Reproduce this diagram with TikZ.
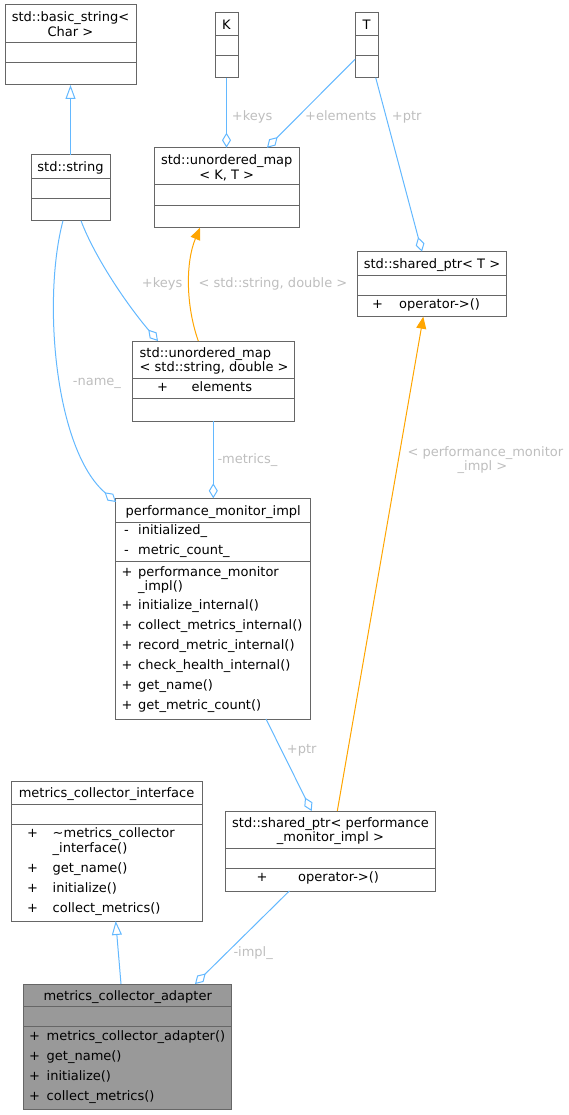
\documentclass[tikz,border=0pt]{standalone}
\usepackage{fontspec}
\setmainfont{DejaVu Sans}
\usetikzlibrary{arrows.meta}
\definecolor{steel}{HTML}{63B8FF}
\definecolor{tmplorange}{HTML}{FFA500}
\definecolor{boxgray}{HTML}{666666}
\definecolor{lblgray}{HTML}{BEBEBE}
\definecolor{adapterfill}{HTML}{999999}
\newcommand\dvf{\fontsize{13}{14.5}\selectfont}
\begin{document}
\begin{tikzpicture}[x=1pt,y=-1pt,
 cls/.style={draw=boxgray, line width=1pt, fill=white, inner sep=0pt, outer sep=0pt, anchor=north west},
 sepline/.style={draw=boxgray, line width=1pt},
 txt/.style={inner sep=0pt, font=\dvf, text=black, anchor=base west},
 ttl/.style={inner sep=0pt, font=\dvf, text=black, anchor=base},
 lbl/.style={inner sep=0pt, font=\dvf, text=lblgray, anchor=base west},
 agg/.style={draw=steel, line width=1pt, -{Diamond[open, length=15pt, width=9pt]}},
 inh/.style={draw=steel, line width=1pt, -{Triangle[open, length=14pt, width=10pt]}},
 tmpl/.style={draw=tmplorange, line width=1pt, -{Triangle[length=12pt, width=10pt, fill=tmplorange]}}
]
\useasboundingbox (0,0) rectangle (569,1115);

% ---------- boxes ----------
% std::basic_string<Char>
\node[cls, minimum width=131pt, minimum height=80pt] (bstr) at (5,5) {};
\draw[sepline] (5,42.7) -- (136,42.7);
\draw[sepline] (5,62.3) -- (136,62.3);
\node[ttl] (bstrT1) at (70.5,21.2) {std::basic\_string<};
\node[ttl] (bstrT2) at (70.5,36.2) {Char >};

% std::string
\node[cls, minimum width=79pt, minimum height=65.7pt] (str) at (31,155) {};
\draw[sepline] (31,178.3) -- (110,178.3);
\draw[sepline] (31,199) -- (110,199);
\node[ttl] (strT) at (70.5,171.2) {std::string};

% K
\node[cls, minimum width=23pt, minimum height=65pt] (K) at (215,12.7) {};
\draw[sepline] (215,35.7) -- (238,35.7);
\draw[sepline] (215,56) -- (238,56);
\node[ttl] (KT) at (226.5,29.4) {K};

% T
\node[cls, minimum width=23pt, minimum height=65pt] (T) at (355,12.7) {};
\draw[sepline] (355,35.7) -- (378,35.7);
\draw[sepline] (355,56) -- (378,56);
\node[ttl] (TT) at (366.5,29.4) {T};

% std::unordered_map< K, T >
\node[cls, minimum width=144.7pt, minimum height=80pt] (umapKT) at (154.3,147.7) {};
\draw[sepline] (154.3,185) -- (299,185);
\draw[sepline] (154.3,205.7) -- (299,205.7);
\node[ttl] (umapKT1) at (226.7,165) {std::unordered\_map};
\node[ttl] (umapKT2) at (226.7,179.5) {< K, T >};

% std::shared_ptr< T >
\node[cls, minimum width=149.4pt, minimum height=65pt] (spT) at (357.3,251.7) {};
\draw[sepline] (357.3,275.3) -- (506.7,275.3);
\draw[sepline] (357.3,295.3) -- (506.7,295.3);
\node[ttl] (spTT) at (432,268.5) {std::shared\_ptr< T >};
\node[txt] (spTp) at (372,308.8) {+};
\node[txt] (spTm) at (399,308.8) {operator->()};

% std::unordered_map< std::string, double >
\node[cls, minimum width=161.3pt, minimum height=80pt] (umap2) at (132.7,341) {};
\draw[sepline] (132.7,378.7) -- (294,378.7);
\draw[sepline] (132.7,398.7) -- (294,398.7);
\node[txt] (umap2T1) at (139.5,357.2) {std::unordered\_map};
\node[txt] (umap2T2) at (139.5,371.4) {< std::string, double >};
\node[txt] (umap2p) at (157,391.2) {+};
\node[txt] (umap2a) at (191.5,391.2) {elements};

% performance_monitor_impl
\node[cls, minimum width=195pt, minimum height=220.7pt] (pmi) at (115.7,498.3) {};
\draw[sepline] (115.7,522.3) -- (310.7,522.3);
\draw[sepline] (115.7,561.7) -- (310.7,561.7);
\node[ttl] (pmiT) at (213.2,515.2) {performance\_monitor\_impl};
\node[txt] (pmia1s) at (124,534.5) {-};
\node[txt] (pmia1) at (138,534.5) {initialized\_};
\node[txt] (pmia2s) at (124,554.5) {-};
\node[txt] (pmia2) at (138,554.5) {metric\_count\_};
\node[txt] (pmim1s) at (121.5,576) {+};
\node[txt] (pmim1) at (138,576) {performance\_monitor};
\node[txt] (pmim1b) at (138,590) {\_impl()};
\node[txt] (pmim2s) at (121.5,609.5) {+};
\node[txt] (pmim2) at (138,609.5) {initialize\_internal()};
\node[txt] (pmim3s) at (121.5,629.5) {+};
\node[txt] (pmim3) at (138,629.5) {collect\_metrics\_internal()};
\node[txt] (pmim4s) at (121.5,649.5) {+};
\node[txt] (pmim4) at (138,649.5) {record\_metric\_internal()};
\node[txt] (pmim5s) at (121.5,669.5) {+};
\node[txt] (pmim5) at (138,669.5) {check\_health\_internal()};
\node[txt] (pmim6s) at (121.5,689.5) {+};
\node[txt] (pmim6) at (138,689.5) {get\_name()};
\node[txt] (pmim7s) at (121.5,709.5) {+};
\node[txt] (pmim7) at (138,709.5) {get\_metric\_count()};

% metrics_collector_interface
\node[cls, minimum width=191pt, minimum height=140pt] (intf) at (11,781) {};
\draw[sepline] (11,804.3) -- (202,804.3);
\draw[sepline] (11,824.3) -- (202,824.3);
\node[ttl] (intfT) at (106.5,797.8) {metrics\_collector\_interface};
\node[txt] (intfm1s) at (27,837.8) {+};
\node[txt] (intfm1) at (52.5,837.8) {\textasciitilde metrics\_collector};
\node[txt] (intfm1b) at (52.5,852.3) {\_interface()};
\node[txt] (intfm2s) at (27,872.8) {+};
\node[txt] (intfm2) at (52.5,872.8) {get\_name()};
\node[txt] (intfm3s) at (27,892.8) {+};
\node[txt] (intfm3) at (52.5,892.8) {initialize()};
\node[txt] (intfm4s) at (27,912.3) {+};
\node[txt] (intfm4) at (52.5,912.3) {collect\_metrics()};

% std::shared_ptr< performance_monitor_impl >
\node[cls, minimum width=209.6pt, minimum height=80pt] (spP) at (225.7,811) {};
\draw[sepline] (225.7,848.7) -- (435.3,848.7);
\draw[sepline] (225.7,868.7) -- (435.3,868.7);
\node[ttl] (spPT1) at (330.5,827.2) {std::shared\_ptr< performance};
\node[ttl] (spPT2) at (330.5,841.8) {\_monitor\_impl >};
\node[txt] (spPp) at (256.5,881.8) {+};
\node[txt] (spPm) at (298,881.8) {operator->()};

% metrics_collector_adapter
\node[cls, fill=adapterfill, minimum width=208pt, minimum height=125.3pt] (adp) at (23.7,984) {};
\draw[sepline] (23.7,1006.7) -- (231.7,1006.7);
\draw[sepline] (23.7,1026.7) -- (231.7,1026.7);
\node[ttl] (adpT) at (127.7,1000.2) {metrics\_collector\_adapter};
\node[txt] (adpm1s) at (29,1040.2) {+};
\node[txt] (adpm1) at (46.5,1040.2) {metrics\_collector\_adapter()};
\node[txt] (adpm2s) at (29,1060.2) {+};
\node[txt] (adpm2) at (46.5,1060.2) {get\_name()};
\node[txt] (adpm3s) at (29,1080.2) {+};
\node[txt] (adpm3) at (46.5,1080.2) {initialize()};
\node[txt] (adpm4s) at (29,1100.2) {+};
\node[txt] (adpm4) at (46.5,1100.2) {collect\_metrics()};

% ---------- connector end points ----------
\coordinate (tLeft) at (355,59.3);
\coordinate (umapKTr) at (267,147.7);
\coordinate (tBot) at (375.7,77.7);
\coordinate (spTtop) at (422,251.7);
\coordinate (strBr) at (81,220.7);
\coordinate (umap2tl) at (158,341);
\coordinate (strBl) at (63,220.7);
\coordinate (pmiTL) at (116,502);
\coordinate (umap2top) at (198.3,341);
\coordinate (umapKTbot) at (200,227.7);
\coordinate (umap2bot) at (213.3,421);
\coordinate (pmiTop) at (213.3,498.3);
\coordinate (pmiBot) at (266,719);
\coordinate (spPtopL) at (311.7,811);
\coordinate (spPtopR) at (337.3,811);
\coordinate (spTbot) at (423.3,316.7);
\coordinate (adpTop) at (121,984);
\coordinate (intfBot) at (115.7,921);
\coordinate (spPbot) at (289.3,891);
\coordinate (adpTopR) at (195,984);

% ---------- connectors ----------
\draw[inh] (str.north) -- (str.north |- bstr.south);
\draw[agg] (K.south) -- (K.south |- umapKT.north);
\draw[agg] (tLeft) -- (umapKTr);
\draw[agg] (tBot) -- (spTtop);
\draw[agg] (strBr) .. controls (95,258) and (128,306) .. (umap2tl);
\draw[tmpl] (umap2top) .. controls (185.6,305) and (185.6,262) .. (umapKTbot);
\draw[agg] (strBl) .. controls (42,300) and (55,450) .. (pmiTL);
\draw[agg] (umap2bot) -- (pmiTop);
\draw[agg] (pmiBot) -- (spPtopL);
\draw[tmpl] (spPtopR) -- (spTbot);
\draw[inh] (adpTop) -- (intfBot);
\draw[agg] (spPbot) -- (adpTopR);

% ---------- connector labels ----------
\node[lbl] (lkeys1) at (231.7,120.2) {+keys};
\node[lbl] (lelems) at (305,120.2) {+elements};
\node[lbl] (lptr1) at (391.7,120.2) {+ptr};
\node[lbl] (lkeys2) at (141.7,287.8) {+keys};
\node[lbl] (lsd) at (198.3,287.8) {< std::string, double >};
\node[lbl] (lname) at (72.7,385.5) {-name\_};
\node[lbl] (lmetrics) at (217.3,463.5) {-metrics\_};
\node[lbl] (lpm1) at (407.3,456.8) {< performance\_monitor};
\node[lbl, anchor=base] (lpm2) at (482.5,470.2) {\_impl >};
\node[lbl] (lptr2) at (286.7,753.5) {+ptr};
\node[lbl] (limpl) at (233.3,956.2) {-impl\_};
\end{tikzpicture}
\end{document}
